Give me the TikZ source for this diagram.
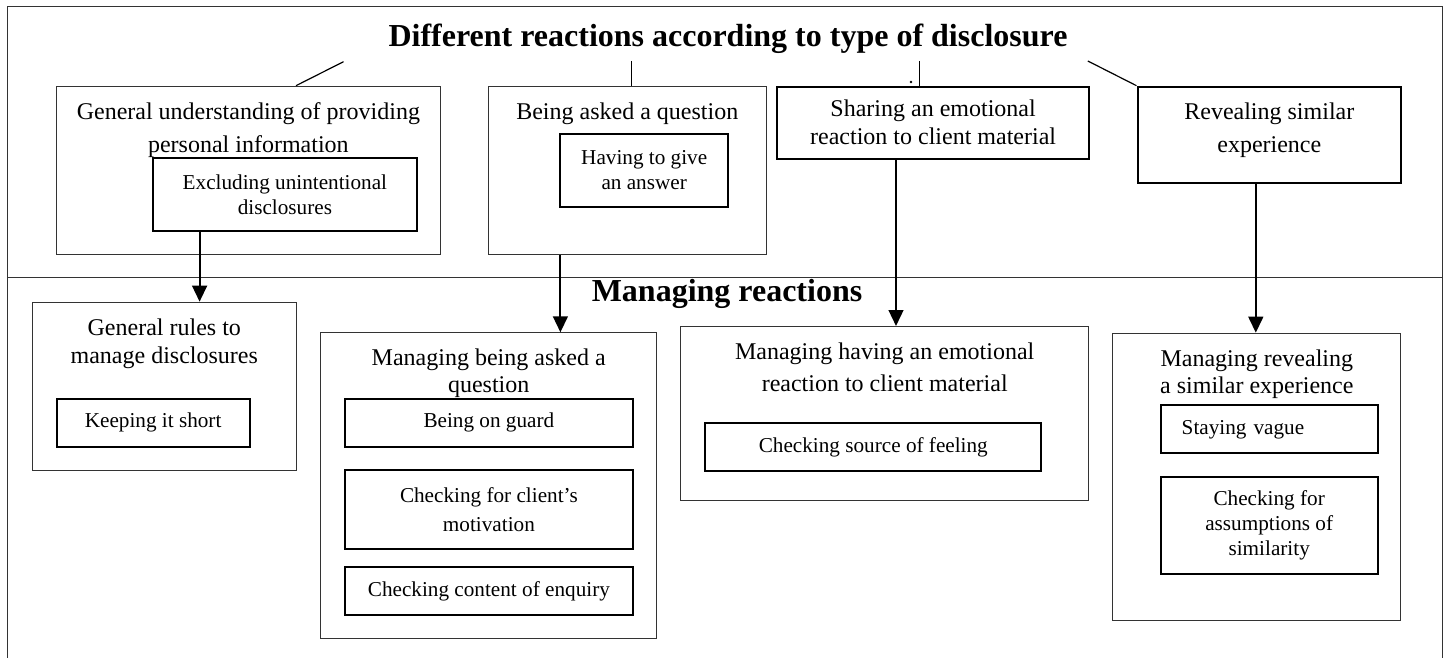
\documentclass[tikz,border=0pt]{standalone}
\usepackage{fontspec}
\setmainfont{Liberation Serif}
\usetikzlibrary{arrows.meta}
\tikzset{
    frame/.style={draw=black!80, line width=0.5pt},
    head/.style={anchor=base, inner sep=0pt, font=\fontsize{16}{19}\bfseries\selectfont},
    grp/.style={draw=black!80, line width=0.5pt, anchor=north west, inner sep=0pt},
    hd/.style={align=center, anchor=north, inner sep=0pt, yshift=-8.2pt, font=\fontsize{12}{#1}\selectfont},
    item/.style={draw, line width=1pt, anchor=north west, inner sep=0pt, align=center, font=\fontsize{10.6}{12.5}\selectfont},
    link/.style={line width=0.6pt},
    arr/.style={-{Triangle[width=7.4pt,length=8pt]}, line width=1pt},
}
\begin{document}
\begin{tikzpicture}[x=0.5pt,y=-0.5pt]
    \useasboundingbox (0,0) rectangle (1456,658);
    % frame and divider
    \draw[frame] (7,658) -- (7,7) -- (1442,7) -- (1442,658);
    \draw[frame] (7,277) -- (1442,277);
    \node[head] (top) at (728,46.7) {Different reactions according to type of disclosure};
    \node[head] (low) at (727,301.7) {Managing reactions};

    % types of disclosure
    \node[grp, minimum width=192.2pt, minimum height=84.2pt,
        label={[hd=16.5pt]north:General understanding of providing\\personal information}] (gen) at (55.7,85.7) {};
    \node[item, minimum width=132.1pt, minimum height=36.5pt] (excl) at (151.8,157) {Excluding unintentional\\disclosures};
    \node[grp, minimum width=139.3pt, minimum height=84.2pt,
        label={[hd=15pt]north:Being asked a question}] (ask) at (487.5,85.7) {};
    \node[item, minimum width=83.8pt, minimum height=36.5pt] (answer) at (559.4,133) {Having to give\\an answer};
    \node[item, minimum width=156.3pt, minimum height=36pt, font=\fontsize{12}{14}\selectfont] (share) at (775.8,85.7) {Sharing an emotional\\reaction to client material};
    \node[grp, draw=black, line width=1pt, minimum width=131.8pt, minimum height=48pt,
        label={[hd=16.5pt]north:Revealing similar\\experience}] (rev) at (1136.5,85.7) {};

    \coordinate (t1) at (343.5,61.7);
    \coordinate (t2) at (631.4,61);
    \coordinate (t3) at (919.7,61);
    \coordinate (t4) at (1087.8,61);
    \draw[link] (t1) -- (gen.north -| 296,0);
    \draw[link] (t2) -- (ask.north -| t2);
    \draw[link] (t3) -- (share.north -| t3);
    \draw[link] (t4) -- (rev.north west);
    \fill (911,82) circle (0.7pt);

    % managing
    \node[grp, minimum width=132.2pt, minimum height=84.2pt,
        label={[hd=14pt]north:General rules to\\manage disclosures}] (rules) at (31.6,301.7) {};
    \node[item, minimum width=96.4pt, minimum height=24.2pt] (short) at (55.7,397.7) {Keeping it short};
    \node[grp, minimum width=167.9pt, minimum height=152.7pt,
        label={[hd=13.5pt]north:Managing being asked a\\question}] (mask) at (320.3,332.3) {};
    \node[item, minimum width=144.4pt, minimum height=24.2pt] (guard) at (343.5,397.7) {Being on guard};
    \node[item, minimum width=144.4pt, minimum height=39.5pt, font=\fontsize{10.6}{14.8}\selectfont] (motive) at (343.5,469.3) {Checking for client's\\motivation};
    \node[item, minimum width=144.4pt, minimum height=24.2pt] (enquiry) at (343.5,565.7) {Checking content of enquiry};
    \node[grp, minimum width=204.2pt, minimum height=87pt,
        label={[hd=15.8pt]north:Managing having an emotional\\reaction to client material}] (memo) at (680,326) {};
    \node[item, minimum width=168pt, minimum height=24.2pt] (source) at (704.3,421.7) {Checking source of feeling};
    \node[grp, minimum width=143.9pt, minimum height=143.7pt,
        label={[hd=13.5pt]north:Managing revealing\\a similar experience}] (mrev) at (1112.4,332.7) {};
    \node[item, minimum width=108.5pt, minimum height=24pt, text width=87.5pt, align=left, inner xsep=10.5pt] (vague) at (1159.7,404.3) {Staying vague};
    \node[item, minimum width=108.5pt, minimum height=48.4pt] (assume) at (1159.7,476) {Checking for\\assumptions of\\similarity};

    \foreach \a/\b/\x in {excl/rules/199.6, ask/mask/560.4, share/memo/896, rev/mrev/1255.8} {
        \draw[arr] (\a.south -| \x,0) -- (\b.north -| \x,0);
    }
\end{tikzpicture}
\end{document}
